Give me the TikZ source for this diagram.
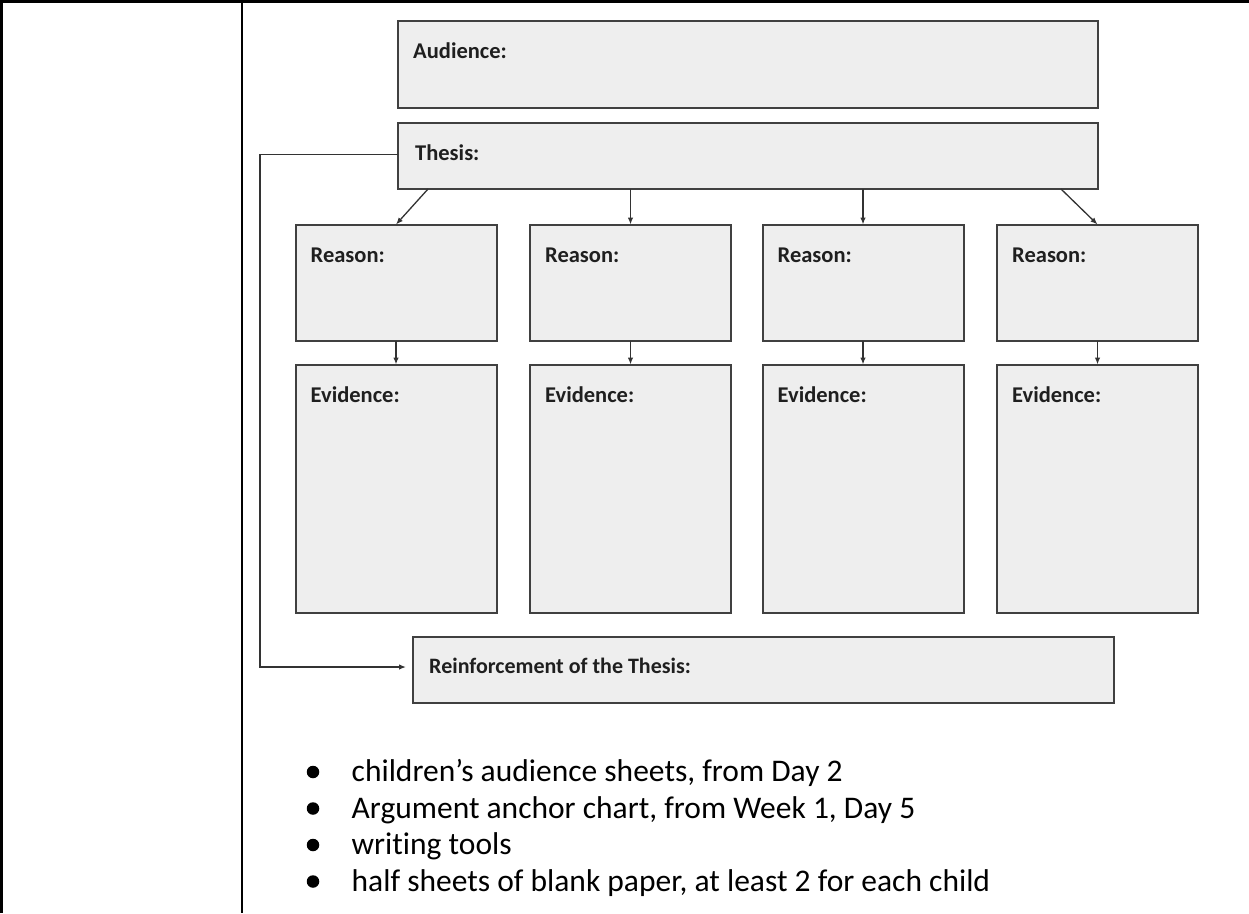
\documentclass[tikz,border=0pt]{standalone}
\usepackage{fontspec}
\setmainfont[Ligatures=NoCommon]{Carlito}
\usetikzlibrary{arrows.meta,calc}
\definecolor{boxfill}{HTML}{EEEEEE}
\definecolor{boxline}{HTML}{404040}
\definecolor{arrowline}{HTML}{333333}
\begin{document}
\begin{tikzpicture}[x=1pt,y=-1pt,
  box/.style={draw=boxline,fill=boxfill,line width=2pt,inner sep=0pt,outer sep=0pt,anchor=north west},
  lbl/.style={anchor=base west,inner sep=0pt,font=\bfseries\fontsize{22.5}{27}\selectfont,text=black!88},
  arr/.style={draw=arrowline,line width=1.3pt,-{Latex[length=7pt,width=5.5pt]}},
  frameline/.style={line width=2.6pt,black},
  dot/.style={circle,fill=black,inner sep=0pt,minimum size=12.5pt},
  bul/.style={anchor=base west,inner sep=0pt,font=\fontsize{31.5}{37}\selectfont,text=black},
]
\useasboundingbox (0,0) rectangle (1249,913);
% frame
\draw[frameline] (1.3,913) -- (1.3,1.3) -- (1249,1.3);
\draw[frameline] (242,1.3) -- (242,913);
% boxes
\node[box,minimum width=700pt,minimum height=87pt] (aud) at (398,21) {};
\node[box,minimum width=700pt,minimum height=66pt] (thesis) at (398,123) {};
\node[box,minimum width=201pt,minimum height=116.5pt] (r1) at (295.5,224.5) {};
\node[box,minimum width=201pt,minimum height=116.5pt] (r2) at (530,224.5) {};
\node[box,minimum width=201pt,minimum height=116.5pt] (r3) at (762.5,224.5) {};
\node[box,minimum width=201pt,minimum height=116.5pt] (r4) at (997,224.5) {};
\node[box,minimum width=201pt,minimum height=248pt] (e1) at (295.5,364.5) {};
\node[box,minimum width=201pt,minimum height=248pt] (e2) at (530,364.5) {};
\node[box,minimum width=201pt,minimum height=248pt] (e3) at (762.5,364.5) {};
\node[box,minimum width=201pt,minimum height=248pt] (e4) at (997,364.5) {};
\node[box,minimum width=701pt,minimum height=66pt] (reinf) at (413,637) {};
% labels
\node[lbl] (audl) at ($(aud.north west)+(15,37)$) {Audience:};
\node[lbl] (thesisl) at ($(thesis.north west)+(17,37)$) {Thesis:};
\foreach \i in {1,2,3,4}{
  \node[lbl] (r\i l) at ($(r\i.north west)+(15,38)$) {Reason:};
  \node[lbl] (e\i l) at ($(e\i.north west)+(15,38)$) {Evidence:};
}
\node[lbl,font=\bfseries\fontsize{22}{26}\selectfont] (reinfl) at ($(reinf.north west)+(16,36)$) {Reinforcement of the Thesis:};
% connectors
\coordinate (ts1) at (428,189);
\coordinate (ts4) at (1061,189);
\coordinate (lc) at (260,154.5);
\draw[arr] (ts1) -- (r1.north);
\draw[arr] (thesis.south -| r2.north) -- (r2.north);
\draw[arr] (thesis.south -| r3.north) -- (r3.north);
\draw[arr] (ts4) -- (r4.north);
\foreach \i in {1,2,3,4}{
  \draw[arr] (r\i.south) -- (e\i.north);
}
\draw[arr,shorten >=7pt] (thesis.west |- lc) -- (lc) |- ([yshift=3pt]reinf.west);
% bullets
\node[dot] (d1) at (313,772) {};
\node[dot] (d2) at (313,808.5) {};
\node[dot] (d3) at (313,845) {};
\node[dot] (d4) at (313,881.5) {};
\node[bul] (b1) at (351.5,781.5) {children’s audience sheets, from Day 2};
\node[bul] (b2) at (351.5,818) {Argument anchor chart, from Week 1, Day 5};
\node[bul] (b3) at (351.5,854.5) {writing tools};
\node[bul] (b4) at (351.5,891) {half sheets of blank paper, at least 2 for each child};
\end{tikzpicture}
\end{document}
